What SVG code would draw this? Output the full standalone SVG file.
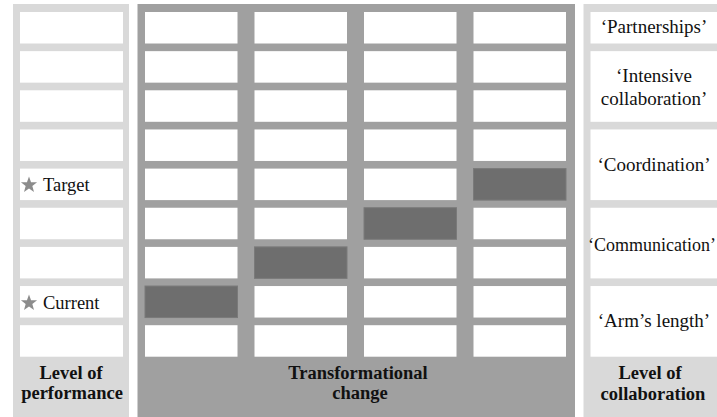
<svg xmlns="http://www.w3.org/2000/svg" width="717" height="417" viewBox="0 0 717 417">
<style>
.lp{fill:#d9d9d9}
.dp{fill:#a0a0a0}
.c{fill:#ffffff}
.d{fill:#6e6e6e;stroke:#7a7a7a;stroke-width:1}
text{font-family:'Liberation Serif','DejaVu Serif','Noto Serif',serif;fill:#111}
.t{font-size:18.5px}
.r{font-size:19px}
.b{font-size:18.5px;font-weight:bold;text-anchor:middle}
.m{text-anchor:middle}
.s{fill:#8c8c8c}
</style>
<defs>
<path id="star" d="M0,-8.5 L2.06,-2.84 L8.08,-2.63 L3.34,1.08 L5,6.88 L0,3.5 L-5,6.88 L-3.34,1.08 L-8.08,-2.63 L-2.06,-2.84 Z"/>
<rect id="lc" width="103" height="31.5"/>
<rect id="gc" width="92.5" height="31.5"/>
</defs>
<rect width="717" height="417" fill="#ffffff"/>

<g id="performance">
<rect class="lp" x="13" y="4" width="116" height="413"/>
<use href="#lc" class="c" x="20" y="12"/>
<use href="#lc" class="c" x="20" y="51.15"/>
<use href="#lc" class="c" x="20" y="90.3"/>
<use href="#lc" class="c" x="20" y="129.45"/>
<use href="#lc" class="c" x="20" y="168.6"/>
<use href="#lc" class="c" x="20" y="207.75"/>
<use href="#lc" class="c" x="20" y="246.9"/>
<use href="#lc" class="c" x="20" y="286.05"/>
<use href="#lc" class="c" x="20" y="325.2"/>
<g id="target">
<use href="#star" class="s" x="29" y="185"/>
<text class="t" x="43" y="191">Target</text>
</g>
<g id="current">
<use href="#star" class="s" x="29" y="303"/>
<text class="t" x="43" y="309">Current</text>
</g>
<text class="b" x="71" y="379">Level of</text>
<text class="b" x="72" y="398.5">performance</text>
</g>

<g id="transformation">
<rect class="dp" x="137.5" y="4" width="437.5" height="413"/>
<g id="col1">
<use href="#gc" class="c" x="145" y="12"/>
<use href="#gc" class="c" x="145" y="51.15"/>
<use href="#gc" class="c" x="145" y="90.3"/>
<use href="#gc" class="c" x="145" y="129.45"/>
<use href="#gc" class="c" x="145" y="168.6"/>
<use href="#gc" class="c" x="145" y="207.75"/>
<use href="#gc" class="c" x="145" y="246.9"/>
<use href="#gc" class="d" x="145" y="286.05"/>
<use href="#gc" class="c" x="145" y="325.2"/>
</g>
<g id="col2">
<use href="#gc" class="c" x="254.5" y="12"/>
<use href="#gc" class="c" x="254.5" y="51.15"/>
<use href="#gc" class="c" x="254.5" y="90.3"/>
<use href="#gc" class="c" x="254.5" y="129.45"/>
<use href="#gc" class="c" x="254.5" y="168.6"/>
<use href="#gc" class="c" x="254.5" y="207.75"/>
<use href="#gc" class="d" x="254.5" y="246.9"/>
<use href="#gc" class="c" x="254.5" y="286.05"/>
<use href="#gc" class="c" x="254.5" y="325.2"/>
</g>
<g id="col3">
<use href="#gc" class="c" x="364" y="12"/>
<use href="#gc" class="c" x="364" y="51.15"/>
<use href="#gc" class="c" x="364" y="90.3"/>
<use href="#gc" class="c" x="364" y="129.45"/>
<use href="#gc" class="c" x="364" y="168.6"/>
<use href="#gc" class="d" x="364" y="207.75"/>
<use href="#gc" class="c" x="364" y="246.9"/>
<use href="#gc" class="c" x="364" y="286.05"/>
<use href="#gc" class="c" x="364" y="325.2"/>
</g>
<g id="col4">
<use href="#gc" class="c" x="473.5" y="12"/>
<use href="#gc" class="c" x="473.5" y="51.15"/>
<use href="#gc" class="c" x="473.5" y="90.3"/>
<use href="#gc" class="c" x="473.5" y="129.45"/>
<use href="#gc" class="d" x="473.5" y="168.6"/>
<use href="#gc" class="c" x="473.5" y="207.75"/>
<use href="#gc" class="c" x="473.5" y="246.9"/>
<use href="#gc" class="c" x="473.5" y="286.05"/>
<use href="#gc" class="c" x="473.5" y="325.2"/>
</g>
<text class="b" x="358" y="379">Transformational</text>
<text class="b" x="360" y="399">change</text>
</g>

<g id="collaboration">
<rect class="lp" x="583.5" y="4" width="140" height="413"/>
<g id="partnerships">
<rect class="c" x="590.5" y="12" width="130" height="31.5"/>
<text class="r m" x="654" y="33">‘Partnerships’</text>
</g>
<g id="intensive">
<rect class="c" x="590.5" y="51.15" width="130" height="70.65"/>
<text class="r m" x="654" y="82">‘Intensive</text>
<text class="r m" x="654" y="105">collaboration’</text>
</g>
<g id="coordination">
<rect class="c" x="590.5" y="129.45" width="130" height="70.65"/>
<text class="r m" x="654" y="171">‘Coordination’</text>
</g>
<g id="communication">
<rect class="c" x="590.5" y="207.75" width="130" height="70.65"/>
<text x="588" y="251" font-size="18px">‘Communication’</text>
</g>
<g id="armslength">
<rect class="c" x="590.5" y="286.05" width="130" height="70.65"/>
<text class="r m" x="654" y="327">‘Arm’s length’</text>
</g>
<text class="b" x="650" y="379">Level of</text>
<text class="b" x="653" y="399.5">collaboration</text>
</g>
</svg>
